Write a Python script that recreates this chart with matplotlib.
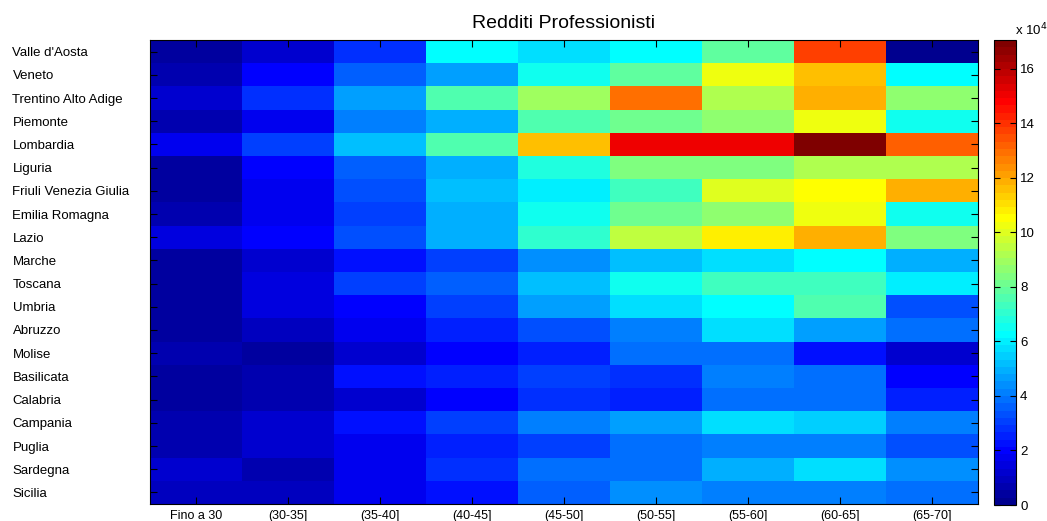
import numpy as np
import matplotlib
matplotlib.use("Agg")
import matplotlib.pyplot as plt
from matplotlib.colors import ListedColormap

plt.rcParams['font.family'] = ['Liberation Sans', 'DejaVu Sans']

regions = ["Valle d'Aosta", "Veneto", "Trentino Alto Adige", "Piemonte", "Lombardia",
           "Liguria", "Friuli Venezia Giulia", "Emilia Romagna", "Lazio", "Marche",
           "Toscana", "Umbria", "Abruzzo", "Molise", "Basilicata", "Calabria",
           "Campania", "Puglia", "Sardegna", "Sicilia"]
age_bands = ["Fino a 30", "(30-35]", "(35-40]", "(40-45]", "(45-50]",
             "(50-55]", "(55-60]", "(60-65]", "(65-70]"]

valle_daosta = [3000, 12000, 28000, 63000, 58000, 63000, 79000, 137000, 500]
veneto = [6700, 20000, 36000, 47000, 65000, 79000, 103000, 116000, 63000]
trentino = [12000, 28000, 47000, 76000, 89000, 129000, 92000, 119000, 87000]
piemonte = [6700, 17000, 41000, 49000, 76000, 81000, 87000, 103000, 65000]
lombardia = [17000, 31000, 52000, 76000, 116000, 151000, 151000, 170500, 132000]
liguria = [4000, 20000, 36000, 49000, 68000, 84000, 84000, 92000, 92000]
friuli = [3000, 17000, 33000, 52000, 60000, 73000, 100000, 105000, 119000]
emilia = [6700, 17000, 31000, 49000, 65000, 81000, 87000, 103000, 65000]
lazio = [15000, 20000, 33000, 49000, 71000, 95000, 108000, 119000, 84000]
marche = [3000, 12000, 23000, 31000, 44000, 52000, 57000, 63000, 49000]
toscana = [4000, 15000, 31000, 36000, 52000, 65000, 73000, 73000, 60000]
umbria = [3000, 15000, 20000, 31000, 47000, 57000, 63000, 76000, 33000]
abruzzo = [4000, 9300, 17000, 26000, 33000, 41000, 57000, 47000, 39000]
molise = [6700, 4000, 12000, 20000, 26000, 39000, 39000, 23000, 12000]
basilicata = [3000, 6700, 23000, 26000, 31000, 28000, 41000, 39000, 20000]
calabria = [3000, 6700, 12000, 20000, 28000, 26000, 39000, 39000, 26000]
campania = [6700, 12000, 23000, 31000, 41000, 47000, 57000, 55000, 41000]
puglia = [6700, 12000, 17000, 26000, 31000, 39000, 41000, 41000, 33000]
sardegna = [12000, 6700, 17000, 28000, 39000, 39000, 49000, 57000, 44000]
sicilia = [9300, 9300, 17000, 23000, 36000, 44000, 41000, 41000, 39000]

data = np.array([valle_daosta, veneto, trentino, piemonte, lombardia, liguria, friuli,
                 emilia, lazio, marche, toscana, umbria, abruzzo, molise, basilicata,
                 calabria, campania, puglia, sardegna, sicilia], dtype=float)

# MATLAB-style jet(64) colormap
n = 64
x = np.arange(1, n + 1)
r = np.clip(np.minimum((x - 24) / 16.0, 1 - (x - 56) / 16.0), 0, 1)
g = np.clip(np.minimum((x - 8) / 16.0, 1 - (x - 40) / 16.0), 0, 1)
b = np.clip(np.minimum((x + 8) / 16.0, 1 - (x - 24) / 16.0), 0, 1)
jet64 = ListedColormap(np.column_stack([r, g, b]))

fig = plt.figure(figsize=(10.47, 5.21), dpi=100)
ax = fig.add_axes([150 / 1047, 1 - 504 / 521, 828 / 1047, 464 / 521])
im = ax.imshow(data, aspect='auto', cmap=jet64, vmin=0, vmax=data.max(),
               interpolation='nearest')

ax.set_xticks(np.arange(len(age_bands)))
ax.set_xticklabels(age_bands, fontsize=9)
ax.set_yticks(np.arange(len(regions)))
ax.set_yticklabels(regions, fontsize=9.5, ha='left')
ax.tick_params(direction='in', top=True, right=True, length=5, width=0.8)
ax.tick_params(axis='y', pad=99)
ax.tick_params(axis='x', pad=4)
for s in ax.spines.values():
    s.set_linewidth(0.8)
ax.set_title("Redditi Professionisti", fontsize=14, pad=9)

cax = fig.add_axes([994 / 1047, 1 - 505 / 521, 22 / 1047, 465 / 521])
cb = fig.colorbar(im, cax=cax)
cb.set_ticks(np.arange(0, 170001, 20000))
cb.set_ticklabels([str(int(v / 10000)) for v in np.arange(0, 170001, 20000)])
cax.tick_params(direction='in', left=True, right=True, length=4, width=0.8,
                labelsize=9.5, pad=3)
cb.outline.set_linewidth(0.8)
fig.text(1015 / 1047, 1 - 30 / 521, r"x 10$^{4}$", fontsize=9.5, ha='left', va='center')

fig.savefig("out.png", dpi=100)
